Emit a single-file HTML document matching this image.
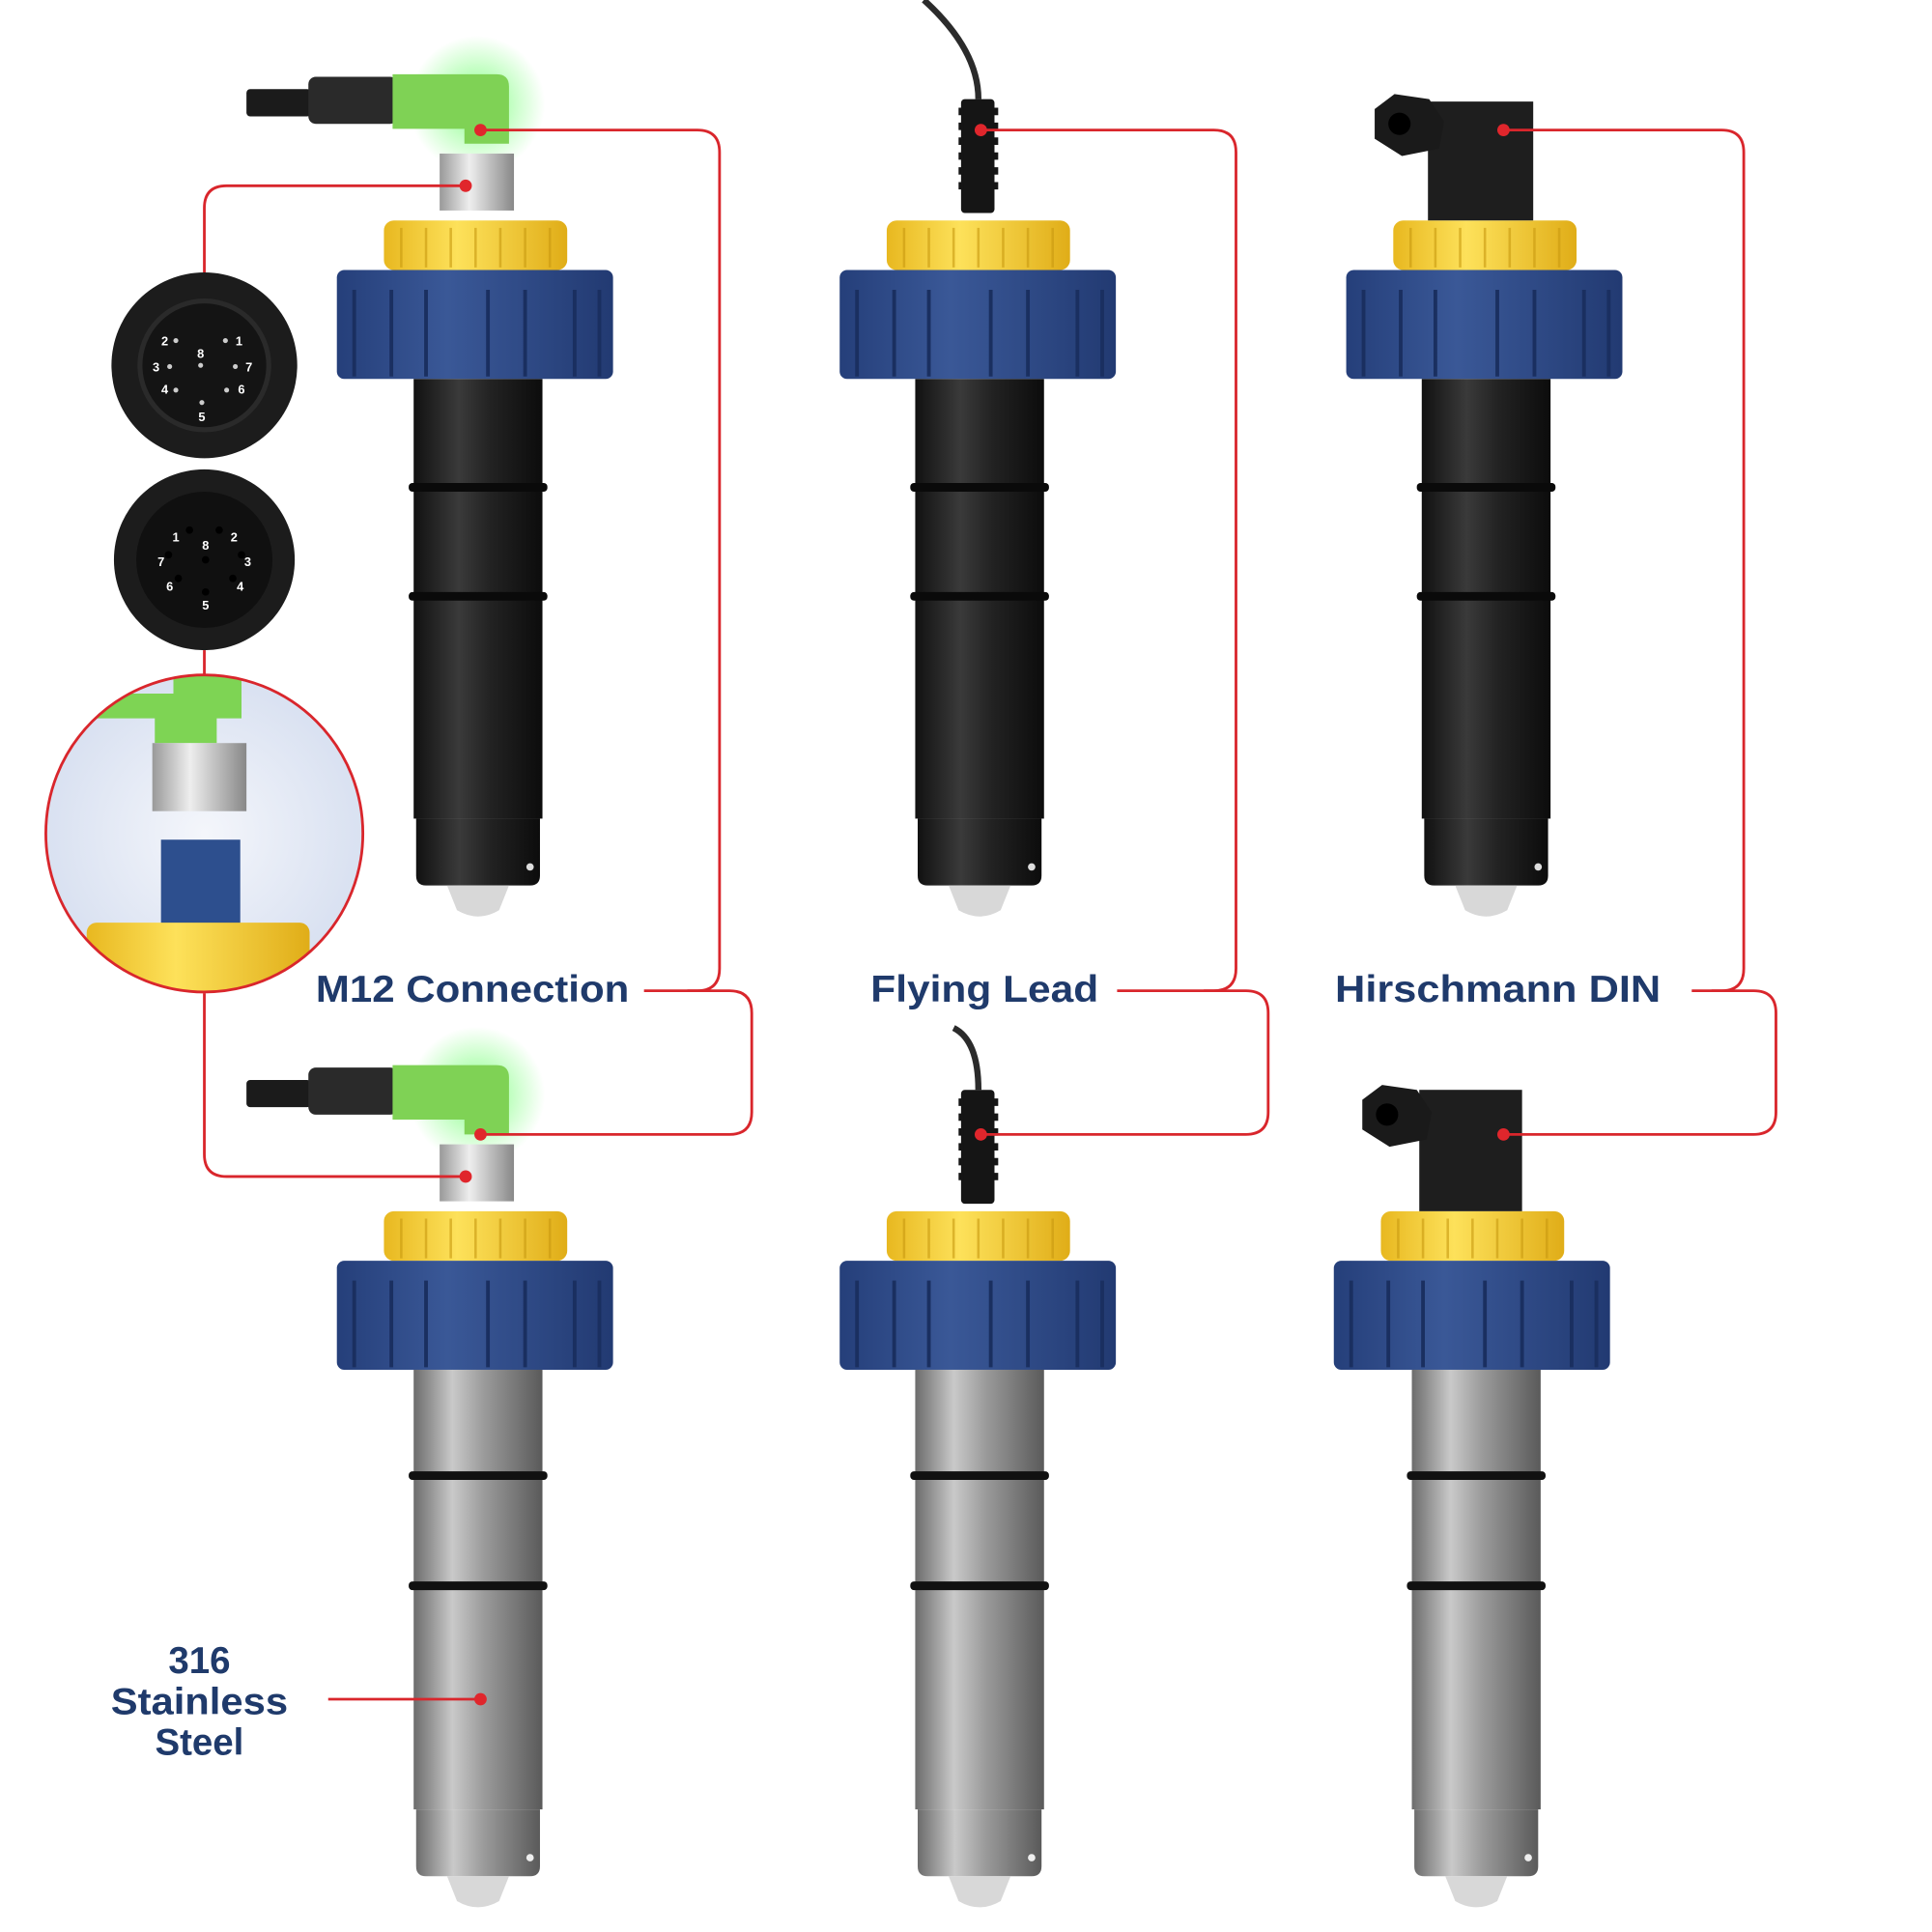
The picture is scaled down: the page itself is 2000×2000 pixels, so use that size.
<!DOCTYPE html>
<html><head><meta charset="utf-8"><style>
html,body{margin:0;padding:0;background:#fff;}
svg{display:block;}
text{font-family:"Liberation Sans",sans-serif;font-weight:bold;fill:#1f3a6b;}
text.w{fill:#fff;}
</style></head><body>
<svg width="2000" height="2000" viewBox="0 0 1560 1560" xmlns="http://www.w3.org/2000/svg">
<defs>
<linearGradient id="blk" x1="0" x2="1"><stop offset="0" stop-color="#111"/><stop offset="0.35" stop-color="#3a3a3a"/><stop offset="0.6" stop-color="#222"/><stop offset="1" stop-color="#0c0c0c"/></linearGradient>
<linearGradient id="ss" x1="0" x2="1"><stop offset="0" stop-color="#6c6c6c"/><stop offset="0.3" stop-color="#c9c9c9"/><stop offset="0.55" stop-color="#9a9a9a"/><stop offset="1" stop-color="#5a5a5a"/></linearGradient>
<linearGradient id="blu" x1="0" x2="1"><stop offset="0" stop-color="#253f7a"/><stop offset="0.4" stop-color="#3a5897"/><stop offset="1" stop-color="#223a72"/></linearGradient>
<linearGradient id="yel" x1="0" x2="1"><stop offset="0" stop-color="#e8b820"/><stop offset="0.4" stop-color="#fde15a"/><stop offset="1" stop-color="#e0ad18"/></linearGradient>
<linearGradient id="knurl" x1="0" x2="1"><stop offset="0" stop-color="#999"/><stop offset="0.4" stop-color="#eee"/><stop offset="1" stop-color="#888"/></linearGradient>
<radialGradient id="glow"><stop offset="0" stop-color="#6f6" stop-opacity="0.8"/><stop offset="1" stop-color="#6f6" stop-opacity="0"/></radialGradient>
<radialGradient id="bub"><stop offset="0" stop-color="#f4f6fb"/><stop offset="1" stop-color="#d9e1f1"/></radialGradient>
<g id="capblue">
  <rect x="-74" y="0" width="148" height="40" rx="8" fill="url(#yel)"/>
  <path d="M-60 6v32M-40 6v32M-20 6v32M0 6v32M20 6v32M40 6v32M60 6v32" stroke="#c99a10" stroke-width="2" opacity="0.6"/>
  <rect x="-112" y="40" width="223" height="88" rx="6" fill="url(#blu)"/>
  <path d="M-98 56v70M-68 56v70M-40 56v70M10 56v70M40 56v70M80 56v70M100 56v70" stroke="#1a2f60" stroke-width="3"/>
</g>
<g id="bodyB">
  <rect x="-52" y="128" width="104" height="355" fill="url(#blk)"/>
  <rect x="-56" y="212" width="112" height="7" rx="3" fill="#0a0a0a"/>
  <rect x="-56" y="300" width="112" height="7" rx="3" fill="#0a0a0a"/>
  <path d="M-50 483h100v46q0 8-8 8h-84q-8 0-8-8z" fill="url(#blk)"/>
  <path d="M-25 537h50l-8 20q-17 10-34 0z" fill="#d8d8d8"/>
  <circle cx="42" cy="522" r="3" fill="#ddd"/>
</g>
<g id="bodyS">
  <rect x="-52" y="128" width="104" height="355" fill="url(#ss)"/>
  <rect x="-56" y="210" width="112" height="7" rx="3" fill="#111"/>
  <rect x="-56" y="299" width="112" height="7" rx="3" fill="#111"/>
  <path d="M-50 483h100v46q0 8-8 8h-84q-8 0-8-8z" fill="url(#ss)"/>
  <path d="M-25 537h50l-8 20q-17 10-34 0z" fill="#d8d8d8"/>
  <circle cx="42" cy="522" r="3" fill="#eee"/>
</g>
<g id="m12">
  <circle cx="0" cy="0" r="55" fill="url(#glow)"/>
  <rect x="-186" y="-12" width="52" height="22" rx="3" fill="#1b1b1b"/>
  <rect x="-136" y="-22" width="72" height="38" rx="6" fill="#2a2a2a"/>
  <path d="M-68 -24h84q10 0 10 10v46h-36v-12h-58z" fill="#7fd255"/>
  <rect x="-30" y="40" width="60" height="46" fill="url(#knurl)"/>
</g>
<g id="lead">
  <rect x="-14" y="0" width="27" height="92" rx="3" fill="#151515"/>
  <path d="M-16 10h4M-16 22h4M-16 34h4M-16 46h4M-16 58h4M-16 70h4M12 10h4M12 22h4M12 34h4M12 46h4M12 58h4M12 70h4" stroke="#151515" stroke-width="6"/>
</g>
</defs>

<!-- top row -->
<use href="#capblue" x="384" y="178"/>
<use href="#bodyB" x="386" y="178"/>
<use href="#capblue" x="790" y="178"/>
<use href="#bodyB" x="791" y="178"/>
<use href="#capblue" x="1199" y="178"/>
<use href="#bodyB" x="1200" y="178"/>
<!-- bottom row -->
<use href="#capblue" x="384" y="978"/>
<use href="#bodyS" x="386" y="978"/>
<use href="#capblue" x="790" y="978"/>
<use href="#bodyS" x="791" y="978"/>
<use href="#capblue" x="1189" y="978"/>
<use href="#bodyS" x="1192" y="978"/>

<!-- M12 connectors -->
<use href="#m12" x="385" y="84"/>
<use href="#m12" x="385" y="884"/>
<!-- flying leads -->
<path d="M746 0Q790 40 790 80" fill="none" stroke="#2b2b2b" stroke-width="5"/>
<use href="#lead" x="790" y="80"/>
<path d="M770 830Q790 840 790 880" fill="none" stroke="#2b2b2b" stroke-width="5"/>
<use href="#lead" x="790" y="880"/>
<!-- DIN -->
<rect x="1153" y="82" width="85" height="96" fill="#1e1e1e"/>
<path d="M1110 88l16-12 28 4 12 18-4 22-30 6-22-14z" fill="#1a1a1a"/>
<circle cx="1130" cy="100" r="9" fill="#000"/>
<rect x="1146" y="880" width="83" height="98" fill="#1e1e1e"/>
<path d="M1100 888l16-12 28 4 12 18-4 22-30 6-22-14z" fill="#1a1a1a"/>
<circle cx="1120" cy="900" r="9" fill="#000"/>

<!-- connector faces -->
<circle cx="165" cy="295" r="75" fill="#1c1c1c"/>
<circle cx="165" cy="295" r="52" fill="#141414" stroke="#2a2a2a" stroke-width="4"/>
<g fill="#ccc"><circle cx="142" cy="275" r="2"/><circle cx="182" cy="275" r="2"/><circle cx="162" cy="295" r="2"/><circle cx="137" cy="296" r="2"/><circle cx="190" cy="296" r="2"/><circle cx="142" cy="315" r="2"/><circle cx="183" cy="315" r="2"/><circle cx="163" cy="325" r="2"/></g>
<g font-size="10" text-anchor="middle">
<text class="w" x="133" y="279">2</text><text class="w" x="193" y="279">1</text>
<text class="w" x="162" y="289">8</text><text class="w" x="126" y="300">3</text>
<text class="w" x="201" y="300">7</text><text class="w" x="133" y="318">4</text>
<text class="w" x="195" y="318">6</text><text class="w" x="163" y="340">5</text>
</g>
<circle cx="165" cy="452" r="73" fill="#1c1c1c"/>
<circle cx="165" cy="452" r="55" fill="#101010"/>
<g fill="#000"><circle cx="153" cy="428" r="3"/><circle cx="177" cy="428" r="3"/><circle cx="166" cy="452" r="3"/><circle cx="136" cy="448" r="3"/><circle cx="195" cy="448" r="3"/><circle cx="144" cy="467" r="3"/><circle cx="188" cy="467" r="3"/><circle cx="166" cy="478" r="3"/></g>
<g font-size="10" text-anchor="middle">
<text class="w" x="142" y="437">1</text><text class="w" x="189" y="437">2</text>
<text class="w" x="166" y="444">8</text><text class="w" x="130" y="457">7</text>
<text class="w" x="200" y="457">3</text><text class="w" x="137" y="477">6</text>
<text class="w" x="194" y="477">4</text><text class="w" x="166" y="492">5</text>
</g>

<!-- detail bubble -->
<clipPath id="bc"><circle cx="165" cy="673" r="128"/></clipPath>
<circle cx="165" cy="673" r="128" fill="url(#bub)"/>
<g clip-path="url(#bc)">
  <path d="M60 560h80v-20h55v40h-20v20h-50v-20h-65z" fill="#7ed454"/>
  <rect x="123" y="600" width="76" height="55" fill="url(#knurl)"/>
  <rect x="130" y="678" width="64" height="68" fill="#2d4f8e"/>
  <rect x="70" y="745" width="180" height="60" rx="8" fill="url(#yel)"/>
</g>
<circle cx="165" cy="673" r="128" fill="none" stroke="#d9262c" stroke-width="2.2"/>

<!-- red connectors -->
<g fill="none" stroke="#d9262c" stroke-width="2.2">
  <path d="M388 105H563q18 0 18 18V782q0 18-18 18H520"/>
  <path d="M555 800h34q18 0 18 18v80q0 18-18 18H388"/>
  <path d="M376 150H183q-18 0-18 18v52"/>
  <path d="M165 525v20"/>
  <path d="M165 802v130q0 18 18 18h193"/>
  <path d="M792 105H980q18 0 18 18V782q0 18-18 18H902"/>
  <path d="M972 800h34q18 0 18 18v80q0 18-18 18H792"/>
  <path d="M1214 105H1390q18 0 18 18V782q0 18-18 18H1366"/>
  <path d="M1382 800h34q18 0 18 18v80q0 18-18 18H1214"/>
  <path d="M265 1372H388"/>
</g>
<!-- dots -->
<g fill="#e0262c">
<circle cx="388" cy="105" r="5"/><circle cx="376" cy="150" r="5"/>
<circle cx="388" cy="916" r="5"/><circle cx="376" cy="950" r="5"/>
<circle cx="792" cy="105" r="5"/><circle cx="792" cy="916" r="5"/>
<circle cx="1214" cy="105" r="5"/><circle cx="1214" cy="916" r="5"/>
<circle cx="388" cy="1372" r="5"/>
</g>

<!-- labels -->
<text x="255" y="809" font-size="30" textLength="253" lengthAdjust="spacingAndGlyphs">M12 Connection</text>
<text x="703" y="809" font-size="30" textLength="184" lengthAdjust="spacingAndGlyphs">Flying Lead</text>
<text x="1078" y="809" font-size="30" textLength="263" lengthAdjust="spacingAndGlyphs">Hirschmann DIN</text>
<text x="161" y="1351" font-size="30" text-anchor="middle">316</text>
<text x="161" y="1384" font-size="30" text-anchor="middle" textLength="143" lengthAdjust="spacingAndGlyphs">Stainless</text>
<text x="161" y="1417" font-size="30" text-anchor="middle">Steel</text>
</svg>
</body></html>
